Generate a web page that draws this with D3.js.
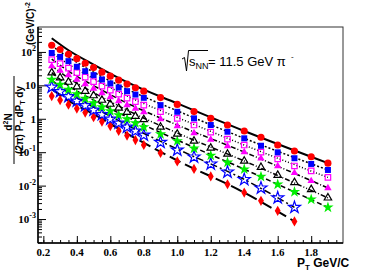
<!DOCTYPE html>
<html>
<head>
<meta charset="utf-8">
<script src="https://cdn.jsdelivr.net/npm/d3@7/dist/d3.min.js"></script>
<style>
  body { margin: 0; background: #fff; }
  text { font-family: "Liberation Sans", Arial, sans-serif; }
  .tick-label { font-family: "Liberation Serif", "Times New Roman", serif; font-weight: bold; font-size: 11px; }
</style>
</head>
<body>
<svg id="chart"></svg>
<script>
// pT bin centres (GeV/c)
const pt = [0.25, 0.30, 0.35, 0.40, 0.45, 0.50, 0.55, 0.60, 0.65, 0.70, 0.75,
            0.80, 0.90, 1.00, 1.10, 1.20, 1.30, 1.40, 1.50, 1.60, 1.70, 1.80, 1.90];

// spectra, one array per centrality class
const redCircles   = [158, 118, 85, 63, 46, 34, 24.8, 18.8, 14.3, 10.9, 8.5,
                      6.7, 4.3, 2.69, 1.64, 1.03, 0.65, 0.43, 0.279, 0.164, 0.109, 0.073, 0.047];
const blueSquares  = [93, 71, 53, 36, 26.5, 20.2, 15.0, 11.4, 8.65, 6.7, 5.3,
                      4.24, 2.56, 1.62, 1.03, 0.65, 0.41, 0.26, 0.156, 0.099, 0.066, 0.0445, 0.0294];
const magOpenSq    = [59, 44.5, 32.6, 23.9, 17.6, 12.9, 9.5, 7.2, 5.46, 4.15, 3.26,
                      2.56, 1.64, 1.03, 0.65, 0.40, 0.245, 0.164, 0.101, 0.063, 0.0387, 0.0275, 0.0176];
const magTriangles = [37.4, 27.5, 20.2, 14.8, 10.9, 8.0, 5.85, 4.44, 3.38, 2.56, 2.02,
                      1.58, 0.98, 0.605, 0.374, 0.239, 0.153, 0.101, 0.065, 0.0387, 0.0239, 0.0138, 0.0085];
const openTriangles = [23.9, 17.0, 12.5, 9.15, 6.7, 4.93, 3.62, 2.75, 2.09, 1.58, 1.20,
                      0.95, 0.565, 0.35, 0.216, 0.133, 0.088, 0.0546, 0.0354, 0.0206, 0.0125, 0.0077, 0.0043];
const greenStars   = [14.8, 10.5, 7.45, 5.46, 4.01, 2.94, 2.23, 1.70, 1.29, 0.98, 0.745,
                      0.565, 0.349, 0.216, 0.13, 0.0796, 0.0493, 0.0309, 0.0186, 0.0109, 0.0065, 0.00387, 0.00223];
const blueOpenStars = [8.83, 6.49, 4.6, 3.38, 2.48, 1.82, 1.33, 0.98, 0.745, 0.565, 0.43,
                      0.326, 0.198, 0.116, 0.072, 0.0445, 0.0256, 0.0153, 0.0085, 0.0043, 0.00223];
const redDiamonds  = [4.77, 3.62, 2.65, 2.02, 1.53, 1.12, 0.825, 0.605, 0.43, 0.315, 0.231,
                      0.164, 0.0947, 0.0528, 0.0315, 0.0188, 0.011, 0.0062, 0.0035, 0.00176, 0.00085];

// fit curves, sampled where they could be read
const fitPt      = [0.25, 0.35, 0.50, 0.70, 1.00, 1.40, 1.90];
const fitPtShort = [0.25, 0.35, 0.50, 0.70, 1.00, 1.40, 1.70];
const fitRed      = [256, 112, 42, 12.5, 2.88, 0.43, 0.047];
const fitBlue     = [151, 70, 24.8, 7.7, 1.73, 0.26, 0.0294];
const fitMagOpen  = [96, 43, 15.9, 4.8, 1.10, 0.164, 0.0176];
const fitMagTri   = [61, 26.7, 9.8, 2.94, 0.65, 0.101, 0.0085];
const fitOpenTri  = [38.7, 16.5, 6.06, 1.82, 0.375, 0.0546, 0.0043];
const fitGreen    = [24, 9.8, 3.6, 1.13, 0.231, 0.0309, 0.00223];
const fitBlueStar = [14.3, 6.07, 2.24, 0.65, 0.124, 0.0153, 0.00223];
const fitDiamond  = [7.7, 3.5, 1.38, 0.36, 0.0565, 0.0062, 0.00085];

const xTickValues = [0.2, 0.4, 0.6, 0.8, 1.0, 1.2, 1.4, 1.6, 1.8];
const yTickExps   = [-3, -2, -1, 0, 1, 2];

const width = 382, height = 273;
const margin = { top: 27, right: 39, bottom: 30, left: 38 };
const innerW = width - margin.left - margin.right;
const innerH = height - margin.top - margin.bottom;

const svg = d3.select('#chart')
    .attr('width', width)
    .attr('height', height);

const chart = svg.append('g')
    .attr('transform', `translate(${margin.left}, ${margin.top})`);

const xscale = d3.scaleLinear().domain([0.168, 1.99]).range([0, innerW]);
const yscale = d3.scaleLog().domain([1.92e-4, 557]).range([innerH, 0]);

// x axis: major every 0.2, minor every 0.05, ticks pointing inward
const xMinor = d3.range(0.2, 1.99, 0.05);
chart.append('g')
    .attr('transform', `translate(0, ${innerH})`)
    .call(d3.axisBottom(xscale).tickValues(xMinor).tickSize(-3).tickFormat('').tickSizeOuter(0))
    .call(g => g.select('.domain').remove());
chart.append('g')
    .attr('transform', `translate(0, ${innerH})`)
    .call(d3.axisBottom(xscale).tickValues(xTickValues).tickSize(-7).tickFormat('').tickSizeOuter(0))
    .call(g => g.select('.domain').remove());

chart.selectAll('.xlab')
    .data(xTickValues)
    .join('text')
    .attr('class', 'tick-label')
    .attr('x', d => xscale(d))
    .attr('y', innerH + 13)
    .attr('text-anchor', 'middle')
    .text(d => d.toFixed(1));

// y axis: decades plus 2..9 minor ticks
const yMinor = [];
for (let e = -4; e <= 2; e++) {
    for (let k = 2; k <= 9; k++) {
        const v = k * Math.pow(10, e);
        if (v > 1.92e-4 && v < 557) yMinor.push(v);
    }
}
const yMajor = yTickExps.map(e => Math.pow(10, e));
chart.append('g')
    .call(d3.axisLeft(yscale).tickValues(yMinor).tickSize(-4).tickFormat('').tickSizeOuter(0))
    .call(g => g.select('.domain').remove());
chart.append('g')
    .call(d3.axisLeft(yscale).tickValues(yMajor).tickSize(-8).tickFormat('').tickSizeOuter(0))
    .call(g => g.select('.domain').remove());

const ylab = chart.selectAll('.ylab')
    .data(yTickExps)
    .join('text')
    .attr('class', 'tick-label')
    .attr('x', -2)
    .attr('y', d => yscale(Math.pow(10, d)) + 4)
    .attr('text-anchor', 'end');
ylab.each(function(d) {
    const t = d3.select(this);
    if (d === 0) { t.text('1'); return; }
    if (d === 1) { t.text('10'); return; }
    t.append('tspan').text('10');
    t.append('tspan').attr('dy', -5).attr('font-size', '8px').text(d);
});

// frame
chart.append('rect')
    .attr('width', innerW)
    .attr('height', innerH)
    .attr('fill', 'none')
    .attr('stroke', '#333')
    .attr('stroke-width', 1);
chart.append('line')
    .attr('x1', 0).attr('x2', 0).attr('y1', 0).attr('y2', innerH)
    .attr('stroke', '#000').attr('stroke-width', 1.5);
chart.append('line')
    .attr('x1', 0).attr('x2', innerW).attr('y1', innerH).attr('y2', innerH)
    .attr('stroke', '#000').attr('stroke-width', 1.5);

// fit lines
const fits = [
    { x: fitPt, y: fitRed, dash: null, w: 2 },
    { x: fitPt, y: fitBlue, dash: '2,2', w: 1.5 },
    { x: fitPt, y: fitMagOpen, dash: '1,2', w: 1.5 },
    { x: fitPt, y: fitMagTri, dash: '5,2,1,2', w: 1.5 },
    { x: fitPt, y: fitOpenTri, dash: '5,2,1,2,1,2', w: 1.5 },
    { x: fitPt, y: fitGreen, dash: '5,3', w: 1.5 },
    { x: fitPtShort, y: fitBlueStar, dash: '7,3,2,3', w: 1.5 },
    { x: fitPtShort, y: fitDiamond, dash: '12,5', w: 2 }
];
const line = d3.line()
    .x(d => xscale(d[0]))
    .y(d => yscale(d[1]))
    .curve(d3.curveMonotoneX);
chart.selectAll('.fit')
    .data(fits)
    .join('path')
    .attr('d', f => line(f.x.map((v, i) => [v, f.y[i]])))
    .attr('fill', 'none')
    .attr('stroke', '#000')
    .attr('stroke-width', f => f.w)
    .attr('stroke-dasharray', f => f.dash);

// markers
const series = [
    { y: redDiamonds, sym: d3.symbolDiamond, size: 30, color: '#ff0000', open: false },
    { y: blueOpenStars, sym: d3.symbolStar, size: 45, color: '#0000ff', open: true },
    { y: greenStars, sym: d3.symbolStar, size: 40, color: '#00ee00', open: false },
    { y: openTriangles, sym: d3.symbolTriangle, size: 24, color: '#000000', open: true },
    { y: magTriangles, sym: d3.symbolTriangle, size: 24, color: '#ff00ff', open: false },
    { y: magOpenSq, sym: d3.symbolSquare, size: 30, color: '#ff00ff', open: true },
    { y: blueSquares, sym: d3.symbolSquare, size: 36, color: '#0000ff', open: false },
    { y: redCircles, sym: d3.symbolCircle, size: 40, color: '#ff0000', open: false }
];
series.forEach(s => {
    chart.append('g')
        .selectAll('path')
        .data(s.y.map((v, i) => [pt[i], v]))
        .join('path')
        .attr('transform', d => `translate(${xscale(d[0])}, ${yscale(d[1])})`)
        .attr('d', d3.symbol().type(s.sym).size(s.size))
        .attr('fill', s.open ? 'none' : s.color)
        .attr('stroke', s.color)
        .attr('stroke-width', s.open ? 1.2 : 0);
});

// annotation: sqrt(s_NN) = 11.5 GeV pi-
const ann = svg.append('g');
ann.append('path')
    .attr('d', 'M182,59 L184.5,57.5 L186.5,71 L188.5,50.5 L208,50.5')
    .attr('fill', 'none').attr('stroke', '#000').attr('stroke-width', 1);
ann.append('text')
    .attr('x', 189).attr('y', 66).attr('font-size', '13px')
    .text('s')
    .append('tspan').attr('font-size', '9px').attr('dy', 3).text('NN');
ann.append('text')
    .attr('x', 208).attr('y', 66).attr('font-size', '13px')
    .text('= 11.5 GeV  π');
ann.append('text')
    .attr('x', 291).attr('y', 59).attr('font-size', '8px')
    .text('-');

// x title
const xt = svg.append('text')
    .attr('x', 297).attr('y', 267)
    .attr('font-size', '12px').attr('font-weight', 'bold');
xt.append('tspan').text('P');
xt.append('tspan').attr('font-size', '8px').attr('dy', 3).text('T');
xt.append('tspan').attr('dy', -3).text(' GeV/C');

// y title (rotated fraction)
const yt = svg.append('g').attr('transform', 'rotate(-90)');
const num = yt.append('text')
    .attr('x', -122).attr('y', 12)
    .attr('text-anchor', 'middle')
    .attr('font-size', '10px').attr('font-weight', 'bold');
num.append('tspan').text('d');
num.append('tspan').attr('font-size', '7px').attr('dy', -4).text('2');
num.append('tspan').attr('dy', 4).text('N');
yt.append('line')
    .attr('x1', -164).attr('x2', -76).attr('y1', 14).attr('y2', 14)
    .attr('stroke', '#000').attr('stroke-width', 1);
const den = yt.append('text')
    .attr('x', -120).attr('y', 23)
    .attr('text-anchor', 'middle')
    .attr('font-size', '10px').attr('font-weight', 'bold');
den.append('tspan').text('(2π) P');
den.append('tspan').attr('font-size', '7px').attr('dy', 2).text('T');
den.append('tspan').attr('dy', -2).text(' dP');
den.append('tspan').attr('font-size', '7px').attr('dy', 2).text('T');
den.append('tspan').attr('dy', -2).text(' dy');
const unit = yt.append('text')
    .attr('x', -45).attr('y', 34)
    .attr('font-size', '10px').attr('font-weight', 'bold');
unit.append('tspan').text('(GeV/C)');
unit.append('tspan').attr('font-size', '7px').attr('dy', -4).text('-2');
</script>
</body>
</html>
